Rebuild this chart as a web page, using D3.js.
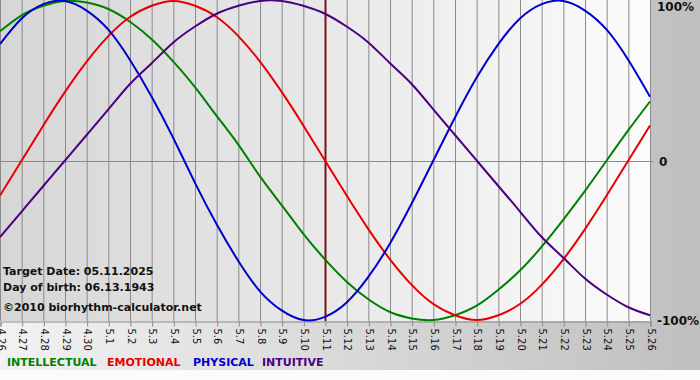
<!DOCTYPE html>
<html lang="en">
<head>
  <meta charset="UTF-8">
  <title>Biorhythm chart</title>
  <style>
    body { margin: 0; background: #fff; }
    svg { display: block; font-family: 'DejaVu Sans', Verdana, sans-serif; }
  </style>
  <script src="https://d3js.org/d3.v7.min.js"></script>
</head>
<body>
  <div id="chart"></div>

  <script>
    // day labels (month.day)
    const days = ["4.26", "4.27", "4.28", "4.29", "4.30", "5.1", "5.2", "5.3", "5.4", "5.5",
      "5.6", "5.7", "5.8", "5.9", "5.10", "5.11", "5.12", "5.13", "5.14", "5.15",
      "5.16", "5.17", "5.18", "5.19", "5.20", "5.21", "5.22", "5.23", "5.24", "5.25", "5.26"];

    // values, -1 .. 1
    const intellectual = [0.81, 0.91, 0.97, 1.00, 0.99, 0.95, 0.87, 0.76, 0.62, 0.46,
      0.28, 0.10, -0.10, -0.28, -0.46, -0.62, -0.76, -0.87, -0.95, -0.99,
      -1.00, -0.97, -0.91, -0.81, -0.69, -0.54, -0.37, -0.19, 0.00, 0.19, 0.37];
    const emotional = [-0.22, 0.00, 0.22, 0.43, 0.62, 0.78, 0.90, 0.97, 1.00, 0.97,
      0.90, 0.78, 0.62, 0.43, 0.22, 0.00, -0.22, -0.43, -0.62, -0.78,
      -0.90, -0.97, -1.00, -0.97, -0.90, -0.78, -0.62, -0.43, -0.22, 0.00, 0.22];
    const physical = [0.73, 0.89, 0.98, 1.00, 0.94, 0.82, 0.63, 0.40, 0.14, -0.14,
      -0.40, -0.63, -0.82, -0.94, -1.00, -0.98, -0.89, -0.73, -0.52, -0.27,
      0.00, 0.27, 0.52, 0.73, 0.89, 0.98, 1.00, 0.94, 0.82, 0.63, 0.40];
    const intuitive = [-0.48, -0.32, -0.16, 0.00, 0.16, 0.32, 0.48, 0.61, 0.74, 0.84,
      0.92, 0.97, 1.00, 1.00, 0.97, 0.92, 0.84, 0.74, 0.61, 0.48,
      0.32, 0.16, 0.00, -0.16, -0.32, -0.48, -0.61, -0.74, -0.84, -0.92, -0.97];

    const seriesNames = ["INTELLECTUAL", "EMOTIONAL", "PHYSICAL", "INTUITIVE"];
    const targetDay = "5.11";
    const infoLines = ["Target Date: 05.11.2025", "Day of birth: 06.13.1943", "\u00a92010 biorhythm-calculator.net"];
    const yLabels = [{ v: 1, t: "100%" }, { v: 0, t: "0" }, { v: -1, t: "-100%" }];

    const series = [
      { name: seriesNames[0], values: intellectual, color: "#008000" },
      { name: seriesNames[1], values: emotional, color: "#e80000" },
      { name: seriesNames[2], values: physical, color: "#0000cc" },
      { name: seriesNames[3], values: intuitive, color: "#4b0082" }
    ];

    const width = 700, height = 380;
    const plotW = 650, plotH = 321;

    const svg = d3.select("#chart").append("svg")
      .attr("width", width)
      .attr("height", height);

    const defs = svg.append("defs");
    const bg = defs.append("linearGradient").attr("id", "bg").attr("x1", 0).attr("x2", 1).attr("y1", 0).attr("y2", 0);
    bg.append("stop").attr("offset", "0%").attr("stop-color", "#f2f2f2");
    bg.append("stop").attr("offset", "100%").attr("stop-color", "#bfbfbf");
    const pg = defs.append("linearGradient").attr("id", "pg").attr("x1", 0).attr("x2", 1).attr("y1", 0).attr("y2", 0);
    pg.append("stop").attr("offset", "0%").attr("stop-color", "#d6d6d6");
    pg.append("stop").attr("offset", "100%").attr("stop-color", "#fbfbfb");

    // background
    svg.append("rect").attr("width", width).attr("height", height).attr("fill", "#fbfbfb");
    svg.append("rect").attr("width", width).attr("height", 370).attr("fill", "url(#bg)");
    svg.append("rect").attr("width", plotW).attr("height", plotH).attr("fill", "url(#pg)");

    const x = d3.scalePoint().domain(days).range([0, plotW]);
    const y = d3.scaleLinear().domain([-1, 1]).range([320, 1]);

    // vertical grid
    svg.append("g")
      .selectAll("line")
      .data(days)
      .join("line")
      .attr("x1", d => x(d) + 0.5)
      .attr("x2", d => x(d) + 0.5)
      .attr("y1", 0)
      .attr("y2", plotH)
      .attr("stroke", "#8a8a8a")
      .attr("stroke-width", 1);

    // zero line
    svg.append("line")
      .attr("x1", 0).attr("x2", plotW + 3)
      .attr("y1", Math.round(y(0)) + 0.5).attr("y2", Math.round(y(0)) + 0.5)
      .attr("stroke", "#8a8a8a");

    // x axis
    const xAxis = svg.append("g")
      .attr("transform", "translate(0.5," + (plotH + 0.5) + ")")
      .call(d3.axisBottom(x).tickSize(5).tickPadding(2));
    xAxis.select(".domain").attr("stroke", "#8a8a8a");
    xAxis.selectAll(".tick line").attr("stroke", "#8a8a8a");
    xAxis.selectAll(".tick text")
      .attr("transform", "rotate(90)")
      .attr("x", 7)
      .attr("y", 0)
      .attr("dy", "0.35em")
      .style("text-anchor", "start")
      .style("font-size", "10px")
      .style("font-family", "'DejaVu Sans', sans-serif")
      .attr("fill", "#111");

    // target day marker
    svg.append("line")
      .attr("x1", x(targetDay) + 0.5).attr("x2", x(targetDay) + 0.5)
      .attr("y1", 0).attr("y2", plotH)
      .attr("stroke", "#7a1212")
      .attr("stroke-width", 2);

    // curves
    const line = d3.line()
      .x((d, i) => x(days[i]))
      .y(d => y(d))
      .curve(d3.curveNatural);

    svg.append("g")
      .selectAll("path")
      .data(series)
      .join("path")
      .attr("d", d => line(d.values))
      .attr("fill", "none")
      .attr("stroke", d => d.color)
      .attr("stroke-width", 2);

    // y labels on the right
    svg.append("g")
      .selectAll("text")
      .data(yLabels)
      .join("text")
      .attr("x", d => d.v === 0 ? 659 : 657)
      .attr("y", d => d.v === 1 ? 11 : y(d.v) + 5)
      .style("font-size", "12px")
      .style("font-weight", "bold")
      .attr("fill", "#111")
      .text(d => d.t);

    // info text
    svg.append("g")
      .selectAll("text")
      .data(infoLines)
      .join("text")
      .attr("x", 3)
      .attr("y", (d, i) => [275, 291, 311][i])
      .style("font-size", "11px")
      .style("font-weight", "bold")
      .attr("fill", "#111")
      .text(d => d);

    // legend
    const legendX = [7, 107, 193, 262];
    svg.append("g")
      .selectAll("text")
      .data(series)
      .join("text")
      .attr("x", (d, i) => legendX[i])
      .attr("y", 366)
      .style("font-size", "11px")
      .style("font-weight", "bold")
      .attr("fill", d => d.color)
      .text(d => d.name);
  </script>
</body>
</html>
